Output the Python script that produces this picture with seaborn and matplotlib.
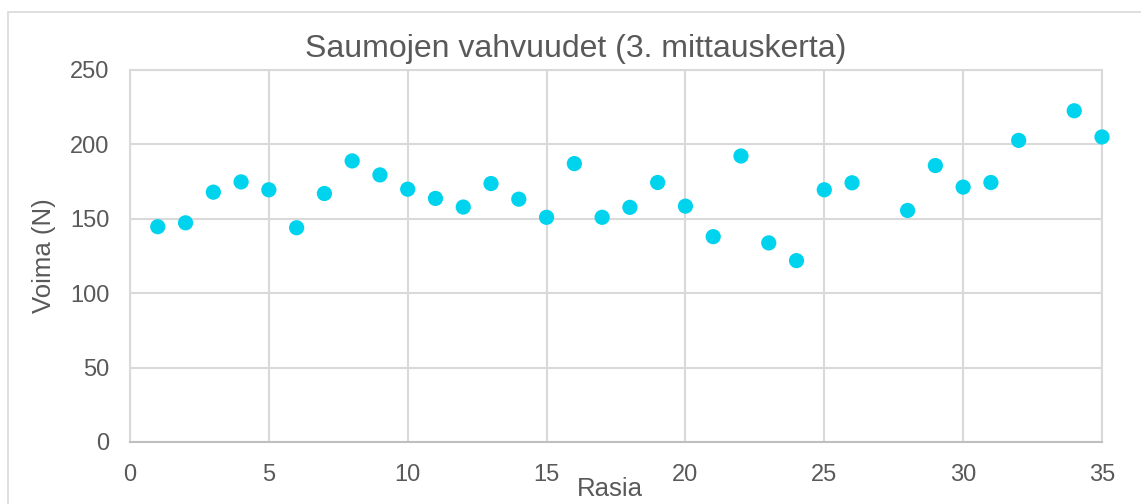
import matplotlib
matplotlib.use("Agg")
import matplotlib.pyplot as plt
import seaborn as sns
import pandas as pd
from matplotlib.patches import Rectangle

rasia = [1, 2, 3, 4, 5, 6, 7, 8, 9, 10, 11, 12, 13, 14, 15, 16, 17, 18, 19, 20,
         21, 22, 23, 24, 25, 26, 28, 29, 30, 31, 32, 34, 35]
voima = [144.7, 147.3, 167.9, 174.8, 169.5, 144.0, 167.0, 188.9, 179.5, 169.9,
         163.7, 157.9, 173.7, 163.2, 151.0, 187.1, 151.0, 157.7, 174.4, 158.5,
         138.0, 192.2, 133.8, 121.9, 169.5, 174.2, 155.6, 185.8, 171.3, 174.4,
         202.7, 222.6, 205.0]
x_ticks = [0, 5, 10, 15, 20, 25, 30, 35]
y_ticks = [0, 50, 100, 150, 200, 250]
title = "Saumojen vahvuudet (3. mittauskerta)"
x_label = "Rasia"
y_label = "Voima (N)"

df = pd.DataFrame({"Rasia": rasia, "Voima": voima})

sns.set_theme(style="white")
plt.rcParams['font.family'] = ['Liberation Sans', 'DejaVu Sans']

text_color = "#595959"
grid_color = "#d9d9d9"

fig = plt.figure(figsize=(11.41, 5.04), dpi=100)
ax = fig.add_axes([130/1141, 1 - 442/504, (1102-130)/1141, (442-70)/504])

# outer chart border
fig.patches.append(Rectangle((8/1141, -0.1), 1.2, 1 - 12/504 + 0.1,
                             transform=fig.transFigure, fill=False,
                             edgecolor=grid_color, linewidth=1.2))

sns.scatterplot(data=df, x="Rasia", y="Voima", ax=ax, color="#00d3ee",
                s=120, edgecolor="none", zorder=3, clip_on=False)

ax.set_xlim(0, 35)
ax.set_ylim(0, 250)
ax.set_xticks(x_ticks)
ax.set_yticks(y_ticks)
ax.grid(True, color=grid_color, linewidth=1.5)
ax.set_axisbelow(True)
for side in ["top", "right", "left"]:
    ax.spines[side].set_color(grid_color)
    ax.spines[side].set_linewidth(1.5)
ax.spines["bottom"].set_color("#bfbfbf")
ax.spines["bottom"].set_linewidth(1.5)

ax.tick_params(axis="both", length=0, labelsize=17, labelcolor=text_color)
ax.tick_params(axis="x", pad=16)
ax.tick_params(axis="y", pad=15)

ax.set_xlabel(x_label, fontsize=18.5, color=text_color, labelpad=-4)
ax.xaxis.set_label_coords(0.494, -0.095)
ax.set_ylabel(y_label, fontsize=18.5, color=text_color, labelpad=10)
ax.set_title(title, fontsize=23, color=text_color, pad=9, x=0.459)

fig.savefig("out.png", dpi=100)
